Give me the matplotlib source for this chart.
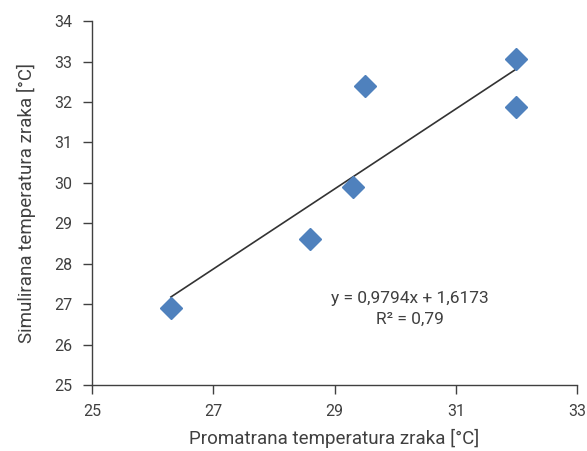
import numpy as np
import matplotlib.pyplot as plt

observed = [26.3, 28.6, 29.3, 29.5, 32.0, 32.0]
simulated = [26.9, 28.6, 29.9, 32.4, 33.07, 31.88]
x_ticks = [25, 27, 29, 31, 33]
y_ticks = [25, 26, 27, 28, 29, 30, 31, 32, 33, 34]
eq_text = "y = 0,9794x + 1,6173\nR² = 0,79"

plt.rcParams['font.family'] = ['Roboto', 'DejaVu Sans']
txt = '#404040'

fig = plt.figure(figsize=(5.87, 4.51), dpi=100)
ax = fig.add_axes([0.157, 0.1463, 0.826, 0.807])

# linear trendline over the range of the data
k, n = np.polyfit(observed, simulated, 1)
xs = np.array([min(observed), max(observed)])
ax.plot(xs, k * xs + n, color='#333333', lw=1.2, zorder=2)

ax.plot(observed, simulated, 'D', color='#4f81bd', ms=11, mec='#4f81bd', zorder=3)

ax.text(30.25, 26.88, eq_text, ha='center', va='center', fontsize=12.5,
        color=txt, linespacing=1.5)

ax.set_xlim(25, 33)
ax.set_ylim(25, 34)
ax.set_xticks(x_ticks)
ax.set_yticks(y_ticks)
for s in ['top', 'right']:
    ax.spines[s].set_visible(False)
for s in ['left', 'bottom']:
    ax.spines[s].set_color('#404040')
    ax.spines[s].set_linewidth(1.0)
ax.tick_params(colors='#404040', labelcolor=txt, labelsize=11.5, length=6.5, width=1)
ax.tick_params(axis='y', pad=8)
ax.tick_params(axis='x', pad=7)

ax.set_xlabel('Promatrana temperatura zraka [°C]', fontsize=13.5, color=txt, labelpad=7)
ax.set_ylabel('Simulirana temperatura zraka [°C]', fontsize=13.5, color=txt, labelpad=13)

fig.savefig('out.png', dpi=100)
